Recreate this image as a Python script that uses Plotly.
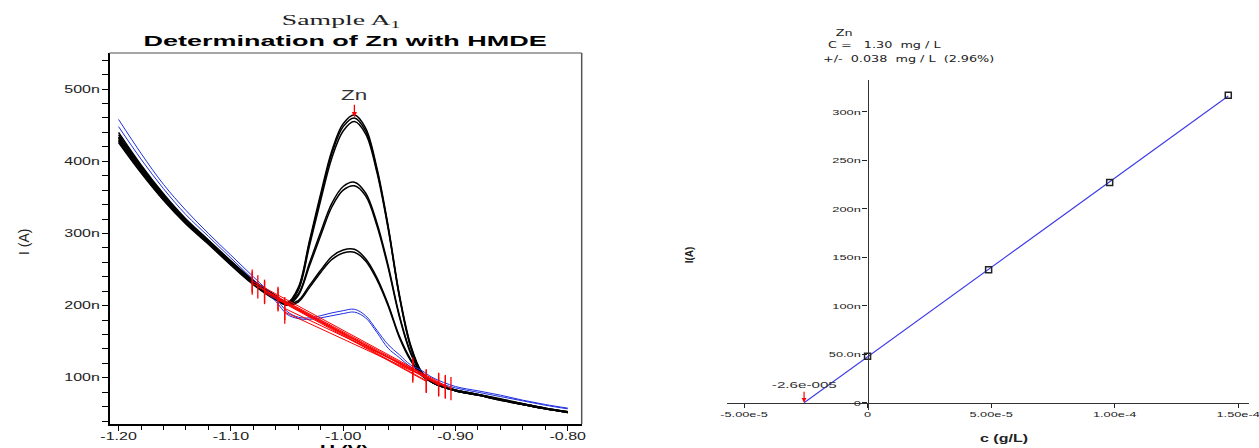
import plotly.graph_objects as go
import numpy as np

# ---------------- Left chart: voltammograms ----------------
U = [-1.20, -1.18, -1.16, -1.14, -1.12, -1.10, -1.08, -1.06, -1.05, -1.04, -1.03, -1.02,
     -1.01, -1.00, -0.99, -0.98, -0.97, -0.96, -0.95, -0.94, -0.93, -0.92, -0.90, -0.88,
     -0.86, -0.84, -0.82, -0.80]

T1 = [440, 395, 355, 320, 291, 262, 235, 214, 204, 225, 290, 355, 415, 452, 464, 446, 391, 311, 216, 146, 108, 94, 83, 77, 70, 64, 58, 53]
T2 = [434, 391, 351, 317, 289, 260, 233, 212, 203, 223, 287, 351, 411, 448, 460, 442, 388, 309, 214, 144, 107, 93, 82, 76, 70, 63, 57, 52]
T3 = [430, 387, 348, 315, 287, 258, 231, 210, 202, 221, 283, 346, 405, 442, 455, 438, 385, 307, 213, 143, 106, 93, 82, 76, 69, 63, 57, 52]
M1 = [437, 393, 353, 318, 290, 261, 234, 213, 204, 216, 259, 302, 342, 365, 371, 356, 315, 256, 187, 136, 106, 94, 83, 77, 70, 64, 58, 53]
M2 = [428, 385, 347, 314, 286, 257, 230, 209, 201, 214, 255, 297, 337, 360, 366, 352, 311, 253, 185, 134, 105, 93, 82, 76, 69, 63, 57, 52]
L1 = [432, 389, 350, 316, 288, 259, 232, 211, 203, 207, 228, 249, 268, 277, 278, 265, 239, 202, 158, 126, 104, 94, 83, 77, 71, 64, 58, 53]
L2 = [426, 384, 346, 313, 285, 256, 229, 208, 201, 205, 225, 246, 264, 273, 274, 262, 236, 200, 156, 124, 103, 93, 82, 76, 70, 63, 57, 52]
B1 = [458, 411, 368, 332, 300, 270, 240, 210, 192, 184, 183, 186, 190, 193, 195, 186, 166, 146, 132, 118, 110, 100, 88, 82, 76, 69, 63, 58]
B2 = [448, 403, 362, 326, 296, 266, 236, 206, 188, 182, 181, 183, 186, 189, 191, 183, 163, 141, 128, 115, 106, 96, 86, 80, 74, 68, 62, 57]

black_curves = [T1, T2, T3, M1, M2, L1, L2]
blue_curves = [B1, B2]

# baselines (start / end points)
bl_u0 = [-1.081, -1.081, -1.076, -1.070, -1.070, -1.058, -1.058, -1.052, -1.052]
bl_i0 = [234, 231, 226, 220, 218, 210, 208, 196, 191]
bl_u1 = [-0.904, -0.909, -0.915, -0.926, -0.909, -0.915, -0.926, -0.938, -0.938]
bl_i1 = [85, 88, 91, 96, 87, 90, 95, 112, 109]

left_xticks = [-1.20, -1.10, -1.00, -0.90, -0.80]
left_xticktext = ["-1.20", "-1.10", "-1.00", "-0.90", "-0.80"]
left_yticks = [100, 200, 300, 400, 500]
left_yticktext = ["100n", "200n", "300n", "400n", "500n"]

peak_u = -0.99
peak_i = 461

# ---------------- Right chart: standard addition ----------------
c_add = [0.0, 4.9e-5, 9.8e-5, 1.46e-4]
i_meas = [48, 137, 227, 317]
right_xticks = [-5e-5, 0, 5e-5, 1e-4, 1.5e-4]
right_xticktext = ["-5.00e-5", "0", "5.00e-5", "1.00e-4", "1.50e-4"]
right_yticks = [0, 50, 100, 150, 200, 250, 300]
right_yticktext = ["0", "50.0n", "100n", "150n", "200n", "250n", "300n"]

W, H = 1259, 448
def fx(px):
    return px / W
def fy(py):
    return 1 - py / H

fig = go.Figure()

for c in black_curves:
    fig.add_trace(go.Scatter(x=U, y=c, mode="lines", line=dict(color="black", width=1.5, shape="spline"),
                             xaxis="x", yaxis="y", showlegend=False, hoverinfo="skip"))
for c in blue_curves:
    fig.add_trace(go.Scatter(x=U, y=c, mode="lines", line=dict(color="#1f2fe0", width=1.0, shape="spline"),
                             xaxis="x", yaxis="y", showlegend=False, hoverinfo="skip"))

# red baselines
bx, by = [], []
for a, b, c, d in zip(bl_u0, bl_i0, bl_u1, bl_i1):
    bx += [a, c, None]
    by += [b, d, None]
fig.add_trace(go.Scatter(x=bx, y=by, mode="lines", line=dict(color="red", width=1.0),
                         xaxis="x", yaxis="y", showlegend=False, hoverinfo="skip"))
# red end ticks
tk = 16
tx, ty = [], []
for a, b in list(zip(bl_u0, bl_i0)) + list(zip(bl_u1, bl_i1)):
    tx += [a, a, None]
    ty += [b - tk, b + tk, None]
fig.add_trace(go.Scatter(x=tx, y=ty, mode="lines", line=dict(color="red", width=1.3),
                         xaxis="x", yaxis="y", showlegend=False, hoverinfo="skip"))

# right chart: fit line and points
slope, icpt = np.polyfit(c_add, i_meas, 1)
x0 = -icpt / slope
fit_x = [x0, c_add[-1]]
fit_y = [slope * v + icpt for v in fit_x]
fig.add_trace(go.Scatter(x=fit_x, y=fit_y, mode="lines", line=dict(color="#3a3ae8", width=1.1),
                         xaxis="x2", yaxis="y2", showlegend=False, hoverinfo="skip"))
fig.add_trace(go.Scatter(x=c_add, y=i_meas, mode="markers",
                         marker=dict(symbol="square-open", size=6, color="#222", line=dict(width=1.5)),
                         xaxis="x2", yaxis="y2", showlegend=False, hoverinfo="skip"))

fig.update_layout(
    width=W, height=H,
    margin=dict(l=0, r=0, t=0, b=0),
    paper_bgcolor="white", plot_bgcolor="white",
    xaxis=dict(domain=[fx(108), fx(582)], range=[-1.208, -0.7876], anchor="y",
               tickmode="array", tickvals=left_xticks, ticktext=left_xticktext,
               ticks="outside", ticklen=5, tickcolor="black", tickwidth=1, ticklabelstandoff=-3,
               minor=dict(dtick=0.02, tick0=-1.2, ticks="outside", ticklen=4, tickcolor="black"),
               showline=True, linecolor="black", linewidth=1.5, showgrid=False, zeroline=False,
               tickfont=dict(family="Arial, Liberation Sans", size=10, color="#222")),
    yaxis=dict(domain=[fy(424), fy(53)], range=[36, 550], anchor="x",
               tickmode="array", tickvals=left_yticks, ticktext=left_yticktext,
               ticks="outside", ticklen=6, tickcolor="black", tickwidth=1,
               minor=dict(dtick=20, tick0=0, ticks="outside", ticklen=6, tickcolor="black"),
               showline=True, linecolor="black", linewidth=1.5, showgrid=False, zeroline=False,
               tickfont=dict(family="Arial, Liberation Sans", size=10, color="#222")),
    xaxis2=dict(domain=[fx(728), fx(1252)], range=[-5.685e-5, 1.544e-4], anchor="free",
                position=fy(402.7),
                tickmode="array", tickvals=right_xticks, ticktext=right_xticktext,
                ticks="outside", ticklen=4, tickcolor="#222",
                showline=True, linecolor="#333", linewidth=1.3, showgrid=False, zeroline=False,
                tickfont=dict(family="Arial, Liberation Sans", size=8, color="#222")),
    yaxis2=dict(domain=[fy(410), fy(80)], range=[-7.5, 332.7], anchor="free",
                position=fx(869),
                tickmode="array", tickvals=right_yticks, ticktext=right_yticktext,
                ticks="outside", ticklen=5, tickcolor="#222",
                showline=True, linecolor="#333", linewidth=1.3, showgrid=False, zeroline=False,
                tickfont=dict(family="Arial, Liberation Sans", size=8, color="#222")),
)

# frame top/right of left chart (gray)
fig.add_shape(type="line", xref="x domain", yref="y domain", x0=0, x1=1, y0=1, y1=1,
              line=dict(color="#888", width=1.5))
fig.add_shape(type="line", xref="x domain", yref="y domain", x0=1, x1=1, y0=0, y1=1,
              line=dict(color="#555", width=1.5))

ann = []
ann.append(dict(text="Sample A<sub>1</sub>", x=fx(340), y=fy(21), xref="paper", yref="paper",
                xanchor="center", yanchor="middle",
                showarrow=False, font=dict(family="Liberation Serif, Times New Roman", size=15, color="#222")))
ann.append(dict(text="<b>Determination of Zn with HMDE</b>", x=fx(344), y=fy(40), xref="paper", yref="paper",
                xanchor="center", yanchor="middle",
                showarrow=False, font=dict(family="Arial, Liberation Sans", size=15, color="black")))
ann.append(dict(text="I (A)", x=fx(22), y=fy(242), xref="paper", yref="paper", textangle=-90,
                xanchor="center", yanchor="middle",
                showarrow=False, font=dict(family="Arial, Liberation Sans", size=14, color="#222")))
ann.append(dict(text="<b>U (V)</b>", x=fx(343), y=fy(440), xref="paper", yref="paper",
                xanchor="center", yanchor="top",
                showarrow=False, font=dict(family="Arial, Liberation Sans", size=13, color="black")))
ann.append(dict(text="Zn", x=peak_u, y=peak_i, xref="x", yref="y", ax=0, ay=-22,
                showarrow=True, arrowhead=2, arrowsize=0.8, arrowwidth=1.3, arrowcolor="red",
                font=dict(family="Arial, Liberation Sans", size=14, color="#333")))
# right chart texts
nb = "\u00a0"
rfont = dict(family="DejaVu Sans", size=8, color="#222")
ann.append(dict(text="Zn", x=fx(846), y=fy(33), xref="paper", yref="paper", xanchor="center", yanchor="middle",
                showarrow=False, font=rfont))
ann.append(dict(text="C =" + nb * 3 + "1.30" + nb * 2 + "mg / L",
                x=fx(886), y=fy(46), xref="paper", yref="paper", xanchor="center", yanchor="middle",
                showarrow=False, font=rfont))
ann.append(dict(text="+/-" + nb * 2 + "0.038" + nb * 2 + "mg / L" + nb * 2 + "(2.96%)",
                x=fx(910), y=fy(60), xref="paper", yref="paper", xanchor="center", yanchor="middle",
                showarrow=False, font=rfont))
ann.append(dict(text="-2.6e-005", x=x0, y=0, xref="x2", yref="y2", ax=0, ay=-18,
                showarrow=True, arrowhead=2, arrowsize=0.8, arrowwidth=1.2, arrowcolor="red",
                font=dict(family="Arial, Liberation Sans", size=9.5, color="#333")))
ann.append(dict(text="<b>I(A)</b>", x=fx(690), y=fy(255), xref="paper", yref="paper", textangle=-90,
                xanchor="center", yanchor="middle",
                showarrow=False, font=dict(family="Arial, Liberation Sans", size=10, color="#222")))
ann.append(dict(text="<b>c (g/L)</b>", x=fx(1006), y=fy(438), xref="paper", yref="paper",
                xanchor="center", yanchor="middle",
                showarrow=False, font=dict(family="Arial, Liberation Sans", size=10, color="#222")))
fig.update_layout(annotations=ann)

# the reference's text is horizontally stretched: widen each text around its anchor
js = """
document.body.style.margin='0';
document.body.style.overflow='hidden';
document.querySelectorAll('svg text').forEach(function(t){
  var s = t.textContent;
  var k = 1.6;
  if (s.indexOf('Determination') >= 0) { k = 1.8; }
  else if (s.indexOf('Sample') >= 0) { k = 1.85; }
  else if (s === 'I (A)' || s === 'I(A)') { k = 1; }
  if (k === 1 || !s) { return; }
  var cx = parseFloat(t.getAttribute('x')) || 0;
  var tr = t.getAttribute('transform') || '';
  t.setAttribute('transform', tr + ' translate(' + cx + ',0) scale(' + k + ',1) translate(' + (-cx) + ',0)');
});
"""
fig.write_html("out.html", config={"displayModeBar": False}, post_script=js)
